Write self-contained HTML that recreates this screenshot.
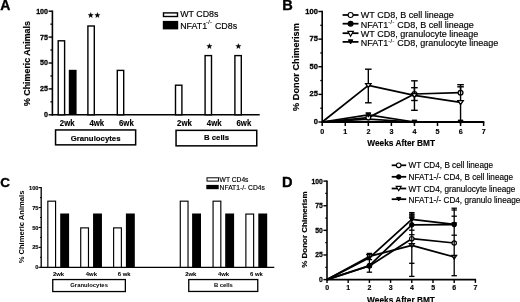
<!DOCTYPE html>
<html><head><meta charset="utf-8"><style>
html,body{margin:0;padding:0;background:#fff;}
svg{display:block;font-family:"Liberation Sans",sans-serif;filter:grayscale(1);}
text{stroke:#000;stroke-width:0.15px;}
</style></head><body>
<svg width="520" height="302" viewBox="0 0 520 302">
<rect width="520" height="302" fill="#fff"/>
<text x="0.30" y="10.10" font-size="14.0" font-weight="bold" text-anchor="start" style="stroke-width:0.35px">A</text>
<line x1="52.40" y1="10.50" x2="52.40" y2="115.55" stroke="#000" stroke-width="1.6"/>
<line x1="51.60" y1="114.80" x2="259.70" y2="114.80" stroke="#000" stroke-width="1.5"/>
<line x1="48.60" y1="114.80" x2="52.40" y2="114.80" stroke="#000" stroke-width="1.4"/>
<text transform="translate(48.00,117.23) scale(0.9,1.0)" font-size="7.9" font-weight="bold" text-anchor="end" style="stroke-width:0.3px">0</text>
<line x1="48.60" y1="88.90" x2="52.40" y2="88.90" stroke="#000" stroke-width="1.4"/>
<text transform="translate(48.00,91.33) scale(0.9,1.0)" font-size="7.9" font-weight="bold" text-anchor="end" style="stroke-width:0.3px">25</text>
<line x1="48.60" y1="63.00" x2="52.40" y2="63.00" stroke="#000" stroke-width="1.4"/>
<text transform="translate(48.00,65.43) scale(0.9,1.0)" font-size="7.9" font-weight="bold" text-anchor="end" style="stroke-width:0.3px">50</text>
<line x1="48.60" y1="37.10" x2="52.40" y2="37.10" stroke="#000" stroke-width="1.4"/>
<text transform="translate(48.00,39.53) scale(0.9,1.0)" font-size="7.9" font-weight="bold" text-anchor="end" style="stroke-width:0.3px">75</text>
<line x1="48.60" y1="11.20" x2="52.40" y2="11.20" stroke="#000" stroke-width="1.4"/>
<text transform="translate(48.00,13.63) scale(0.9,1.0)" font-size="7.9" font-weight="bold" text-anchor="end" style="stroke-width:0.3px">100</text>
<line x1="50.40" y1="101.85" x2="52.40" y2="101.85" stroke="#000" stroke-width="1.3"/>
<line x1="50.40" y1="75.95" x2="52.40" y2="75.95" stroke="#000" stroke-width="1.3"/>
<line x1="50.40" y1="50.05" x2="52.40" y2="50.05" stroke="#000" stroke-width="1.3"/>
<line x1="50.40" y1="24.15" x2="52.40" y2="24.15" stroke="#000" stroke-width="1.3"/>
<rect x="58.20" y="40.80" width="6.40" height="74.00" fill="#fff" stroke="#000" stroke-width="1.4"/>
<rect x="87.90" y="26.00" width="6.40" height="88.80" fill="#fff" stroke="#000" stroke-width="1.4"/>
<rect x="117.30" y="70.40" width="6.40" height="44.40" fill="#fff" stroke="#000" stroke-width="1.4"/>
<rect x="175.50" y="85.20" width="6.40" height="29.60" fill="#fff" stroke="#000" stroke-width="1.4"/>
<rect x="205.10" y="55.60" width="6.40" height="59.20" fill="#fff" stroke="#000" stroke-width="1.4"/>
<rect x="234.90" y="55.60" width="6.40" height="59.20" fill="#fff" stroke="#000" stroke-width="1.4"/>
<rect x="68.80" y="69.80" width="7.80" height="45.00" fill="#000"/>
<polygon points="90.70,12.40 91.42,14.31 93.46,14.40 91.86,15.68 92.40,17.65 90.70,16.52 89.00,17.65 89.54,15.68 87.94,14.40 89.98,14.31" fill="#000" stroke="#000" stroke-width="0.2" stroke-linejoin="round"/>
<polygon points="97.40,12.40 98.12,14.31 100.16,14.40 98.56,15.68 99.10,17.65 97.40,16.52 95.70,17.65 96.24,15.68 94.64,14.40 96.68,14.31" fill="#000" stroke="#000" stroke-width="0.2" stroke-linejoin="round"/>
<polygon points="209.40,43.40 210.12,45.31 212.16,45.40 210.56,46.68 211.10,48.65 209.40,47.52 207.70,48.65 208.24,46.68 206.64,45.40 208.68,45.31" fill="#000" stroke="#000" stroke-width="0.2" stroke-linejoin="round"/>
<polygon points="238.40,43.40 239.12,45.31 241.16,45.40 239.56,46.68 240.10,48.65 238.40,47.52 236.70,48.65 237.24,46.68 235.64,45.40 237.68,45.31" fill="#000" stroke="#000" stroke-width="0.2" stroke-linejoin="round"/>
<text transform="translate(67.20,125.80) scale(0.92,1.0)" font-size="8.5" font-weight="bold" text-anchor="middle">2wk</text>
<text transform="translate(96.80,125.80) scale(0.92,1.0)" font-size="8.5" font-weight="bold" text-anchor="middle">4wk</text>
<text transform="translate(126.40,125.80) scale(0.92,1.0)" font-size="8.5" font-weight="bold" text-anchor="middle">6wk</text>
<text transform="translate(184.50,125.80) scale(0.92,1.0)" font-size="8.5" font-weight="bold" text-anchor="middle">2wk</text>
<text transform="translate(214.20,125.80) scale(0.92,1.0)" font-size="8.5" font-weight="bold" text-anchor="middle">4wk</text>
<text transform="translate(243.90,125.80) scale(0.92,1.0)" font-size="8.5" font-weight="bold" text-anchor="middle">6wk</text>
<rect x="55.55" y="129.95" width="80.10" height="14.90" fill="#fff" stroke="#000" stroke-width="1.5"/>
<rect x="176.05" y="130.35" width="80.70" height="15.50" fill="#fff" stroke="#000" stroke-width="1.5"/>
<text x="95.60" y="140.90" font-size="7.8" font-weight="bold" text-anchor="middle">Granulocytes</text>
<text x="216.50" y="140.10" font-size="7.8" font-weight="bold" text-anchor="middle">B cells</text>
<text transform="translate(29.60,63.60) rotate(-90)" font-size="8.9" font-weight="bold" text-anchor="middle">% Chimeric Animals</text>
<rect x="163.50" y="12.90" width="14.00" height="3.60" fill="#fff" stroke="#000" stroke-width="1.4"/>
<rect x="162.80" y="20.90" width="15.40" height="8.50" fill="#000"/>
<text x="180.20" y="17.30" font-size="8.9" font-weight="normal" text-anchor="start">WT CD8s</text>
<text x="180.20" y="29.10" font-size="8.9" font-weight="normal" text-anchor="start">NFAT1</text>
<text x="206.00" y="24.30" font-size="5.4" font-weight="normal" text-anchor="start" letter-spacing="0.4">-/-</text>
<text x="214.90" y="29.10" font-size="8.9" font-weight="normal" text-anchor="start">CD8s</text>
<text x="282.20" y="10.40" font-size="14.6" font-weight="bold" text-anchor="start" style="stroke-width:0.35px">B</text>
<line x1="322.20" y1="10.80" x2="322.20" y2="122.70" stroke="#000" stroke-width="1.6"/>
<line x1="321.50" y1="122.00" x2="484.32" y2="122.00" stroke="#000" stroke-width="1.8"/>
<line x1="318.40" y1="122.00" x2="322.20" y2="122.00" stroke="#000" stroke-width="1.4"/>
<text transform="translate(317.90,124.00) scale(0.93,1.0)" font-size="8.1" font-weight="bold" text-anchor="end" style="stroke-width:0.3px">0</text>
<line x1="318.40" y1="94.38" x2="322.20" y2="94.38" stroke="#000" stroke-width="1.4"/>
<text transform="translate(317.90,96.37) scale(0.93,1.0)" font-size="8.1" font-weight="bold" text-anchor="end" style="stroke-width:0.3px">25</text>
<line x1="318.40" y1="66.75" x2="322.20" y2="66.75" stroke="#000" stroke-width="1.4"/>
<text transform="translate(317.90,68.75) scale(0.93,1.0)" font-size="8.1" font-weight="bold" text-anchor="end" style="stroke-width:0.3px">50</text>
<line x1="318.40" y1="39.12" x2="322.20" y2="39.12" stroke="#000" stroke-width="1.4"/>
<text transform="translate(317.90,41.12) scale(0.93,1.0)" font-size="8.1" font-weight="bold" text-anchor="end" style="stroke-width:0.3px">75</text>
<line x1="318.40" y1="11.50" x2="322.20" y2="11.50" stroke="#000" stroke-width="1.4"/>
<text transform="translate(317.90,13.50) scale(0.93,1.0)" font-size="8.1" font-weight="bold" text-anchor="end" style="stroke-width:0.3px">100</text>
<line x1="320.30" y1="108.19" x2="322.20" y2="108.19" stroke="#000" stroke-width="1.3"/>
<line x1="320.30" y1="80.56" x2="322.20" y2="80.56" stroke="#000" stroke-width="1.3"/>
<line x1="320.30" y1="52.94" x2="322.20" y2="52.94" stroke="#000" stroke-width="1.3"/>
<line x1="320.30" y1="25.31" x2="322.20" y2="25.31" stroke="#000" stroke-width="1.3"/>
<line x1="322.20" y1="122.00" x2="322.20" y2="126.00" stroke="#000" stroke-width="1.5"/>
<text transform="translate(322.30,133.70) scale(1.0,1.0)" font-size="7.2" font-weight="bold" text-anchor="middle">0</text>
<line x1="345.26" y1="122.00" x2="345.26" y2="126.00" stroke="#000" stroke-width="1.5"/>
<text transform="translate(345.36,133.70) scale(1.0,1.0)" font-size="7.2" font-weight="bold" text-anchor="middle">1</text>
<line x1="368.32" y1="122.00" x2="368.32" y2="126.00" stroke="#000" stroke-width="1.5"/>
<text transform="translate(368.42,133.70) scale(1.0,1.0)" font-size="7.2" font-weight="bold" text-anchor="middle">2</text>
<line x1="391.38" y1="122.00" x2="391.38" y2="126.00" stroke="#000" stroke-width="1.5"/>
<text transform="translate(391.48,133.70) scale(1.0,1.0)" font-size="7.2" font-weight="bold" text-anchor="middle">3</text>
<line x1="414.44" y1="122.00" x2="414.44" y2="126.00" stroke="#000" stroke-width="1.5"/>
<text transform="translate(414.54,133.70) scale(1.0,1.0)" font-size="7.2" font-weight="bold" text-anchor="middle">4</text>
<line x1="437.50" y1="122.00" x2="437.50" y2="126.00" stroke="#000" stroke-width="1.5"/>
<text transform="translate(437.60,133.70) scale(1.0,1.0)" font-size="7.2" font-weight="bold" text-anchor="middle">5</text>
<line x1="460.56" y1="122.00" x2="460.56" y2="126.00" stroke="#000" stroke-width="1.5"/>
<text transform="translate(460.66,133.70) scale(1.0,1.0)" font-size="7.2" font-weight="bold" text-anchor="middle">6</text>
<line x1="483.62" y1="122.00" x2="483.62" y2="126.00" stroke="#000" stroke-width="1.5"/>
<text transform="translate(483.72,133.70) scale(1.0,1.0)" font-size="7.2" font-weight="bold" text-anchor="middle">7</text>
<text x="401.20" y="146.00" font-size="8.3" font-weight="bold" text-anchor="middle">Weeks After BMT</text>
<text transform="translate(298.70,67.00) rotate(-90)" font-size="9.2" font-weight="bold" text-anchor="middle">% Donor Chimerism</text>
<polyline points="322.20,122.00 368.32,119.20 414.44,122.00" fill="none" stroke="#000" stroke-width="1.75" stroke-linejoin="round"/>
<polyline points="322.20,122.00 368.32,117.60 414.44,94.00 460.56,92.70" fill="none" stroke="#000" stroke-width="1.75" stroke-linejoin="round"/>
<polyline points="322.20,122.00 368.32,85.40 414.44,95.30 460.56,102.40" fill="none" stroke="#000" stroke-width="1.75" stroke-linejoin="round"/>
<polyline points="322.20,122.00 368.32,114.80 414.44,122.00 460.56,122.00" fill="none" stroke="#000" stroke-width="1.75" stroke-linejoin="round"/>
<line x1="414.44" y1="87.70" x2="414.44" y2="100.50" stroke="#000" stroke-width="1.4"/>
<line x1="411.14" y1="87.70" x2="417.74" y2="87.70" stroke="#000" stroke-width="1.4"/>
<line x1="411.14" y1="100.50" x2="417.74" y2="100.50" stroke="#000" stroke-width="1.4"/>
<line x1="460.56" y1="86.80" x2="460.56" y2="92.70" stroke="#000" stroke-width="1.4"/>
<line x1="457.26" y1="86.80" x2="463.86" y2="86.80" stroke="#000" stroke-width="1.4"/>
<circle cx="368.32" cy="117.60" r="2.40" fill="#fff" stroke="#000" stroke-width="1.3"/>
<circle cx="414.44" cy="94.00" r="2.40" fill="#fff" stroke="#000" stroke-width="1.3"/>
<circle cx="460.56" cy="92.70" r="2.40" fill="#fff" stroke="#000" stroke-width="1.3"/>
<line x1="368.32" y1="69.20" x2="368.32" y2="102.80" stroke="#000" stroke-width="1.4"/>
<line x1="365.02" y1="69.20" x2="371.62" y2="69.20" stroke="#000" stroke-width="1.4"/>
<line x1="365.02" y1="102.80" x2="371.62" y2="102.80" stroke="#000" stroke-width="1.4"/>
<line x1="414.44" y1="80.80" x2="414.44" y2="110.30" stroke="#000" stroke-width="1.4"/>
<line x1="411.14" y1="80.80" x2="417.74" y2="80.80" stroke="#000" stroke-width="1.4"/>
<line x1="411.14" y1="110.30" x2="417.74" y2="110.30" stroke="#000" stroke-width="1.4"/>
<line x1="460.56" y1="84.70" x2="460.56" y2="121.00" stroke="#000" stroke-width="1.4"/>
<line x1="457.26" y1="84.70" x2="463.86" y2="84.70" stroke="#000" stroke-width="1.4"/>
<polygon points="365.62,83.65 371.02,83.65 368.32,87.55" fill="#fff" stroke="#000" stroke-width="1.3" stroke-linejoin="miter"/>
<polygon points="411.74,93.55 417.14,93.55 414.44,97.44" fill="#fff" stroke="#000" stroke-width="1.3" stroke-linejoin="miter"/>
<polygon points="457.86,100.65 463.26,100.65 460.56,104.55" fill="#fff" stroke="#000" stroke-width="1.3" stroke-linejoin="miter"/>
<polygon points="365.82,112.82 370.82,112.82 368.32,117.22" fill="#000" stroke="#000" stroke-width="1.0" stroke-linejoin="miter"/>
<polygon points="411.94,120.10 416.94,120.10 414.44,123.90" fill="#000" stroke="#000" stroke-width="1.0" stroke-linejoin="miter"/>
<polygon points="458.06,120.10 463.06,120.10 460.56,123.90" fill="#000" stroke="#000" stroke-width="1.0" stroke-linejoin="miter"/>
<line x1="342.60" y1="15.00" x2="358.50" y2="15.00" stroke="#000" stroke-width="1.75"/>
<line x1="342.60" y1="23.70" x2="358.50" y2="23.70" stroke="#000" stroke-width="1.75"/>
<line x1="342.60" y1="33.20" x2="358.50" y2="33.20" stroke="#000" stroke-width="1.75"/>
<line x1="342.60" y1="41.90" x2="358.50" y2="41.90" stroke="#000" stroke-width="1.75"/>
<circle cx="350.60" cy="15.00" r="2.50" fill="#fff" stroke="#000" stroke-width="1.1"/>
<circle cx="350.60" cy="23.70" r="2.40" fill="#000" stroke="#000" stroke-width="1.2"/>
<polygon points="347.90,31.44 353.30,31.44 350.60,36.24" fill="#fff" stroke="#000" stroke-width="1.2" stroke-linejoin="miter"/>
<polygon points="348.40,39.80 352.80,39.80 350.60,44.00" fill="#000" stroke="#000" stroke-width="1.0" stroke-linejoin="miter"/>
<text x="360.80" y="17.60" font-size="9.0" font-weight="normal" text-anchor="start">WT CD8, B cell lineage</text>
<text x="360.80" y="27.70" font-size="9.0" font-weight="normal" text-anchor="start">NFAT1<tspan dy="-3.6" font-size="5.4" letter-spacing="0.5">-/-</tspan><tspan dy="3.6"> CD8, B cell lineage</tspan></text>
<text x="360.80" y="36.50" font-size="9.0" font-weight="normal" text-anchor="start">WT CD8, granulocyte lineage</text>
<text x="360.80" y="46.40" font-size="9.0" font-weight="normal" text-anchor="start">NFAT1<tspan dy="-3.6" font-size="5.4" letter-spacing="0.5">-/-</tspan><tspan dy="3.6"> CD8, granulocyte lineage</tspan></text>
<text x="0.20" y="187.30" font-size="13.5" font-weight="bold" text-anchor="start" style="stroke-width:0.35px">C</text>
<line x1="41.20" y1="187.00" x2="41.20" y2="267.90" stroke="#000" stroke-width="1.3"/>
<line x1="40.60" y1="267.30" x2="274.30" y2="267.30" stroke="#000" stroke-width="1.3"/>
<line x1="38.60" y1="267.30" x2="41.20" y2="267.30" stroke="#000" stroke-width="1.1"/>
<text transform="translate(38.50,269.35) scale(0.95,1.0)" font-size="6.0" font-weight="bold" text-anchor="end" style="stroke-width:0.12px">0</text>
<line x1="38.60" y1="247.38" x2="41.20" y2="247.38" stroke="#000" stroke-width="1.1"/>
<text transform="translate(38.50,249.42) scale(0.95,1.0)" font-size="6.0" font-weight="bold" text-anchor="end" style="stroke-width:0.12px">25</text>
<line x1="38.60" y1="227.45" x2="41.20" y2="227.45" stroke="#000" stroke-width="1.1"/>
<text transform="translate(38.50,229.50) scale(0.95,1.0)" font-size="6.0" font-weight="bold" text-anchor="end" style="stroke-width:0.12px">50</text>
<line x1="38.60" y1="207.53" x2="41.20" y2="207.53" stroke="#000" stroke-width="1.1"/>
<text transform="translate(38.50,209.57) scale(0.95,1.0)" font-size="6.0" font-weight="bold" text-anchor="end" style="stroke-width:0.12px">75</text>
<line x1="38.60" y1="187.60" x2="41.20" y2="187.60" stroke="#000" stroke-width="1.1"/>
<text transform="translate(38.50,189.65) scale(0.95,1.0)" font-size="6.0" font-weight="bold" text-anchor="end" style="stroke-width:0.12px">100</text>
<line x1="40.00" y1="257.34" x2="41.20" y2="257.34" stroke="#000" stroke-width="1.0"/>
<line x1="40.00" y1="237.41" x2="41.20" y2="237.41" stroke="#000" stroke-width="1.0"/>
<line x1="40.00" y1="217.49" x2="41.20" y2="217.49" stroke="#000" stroke-width="1.0"/>
<line x1="40.00" y1="197.56" x2="41.20" y2="197.56" stroke="#000" stroke-width="1.0"/>
<rect x="47.83" y="201.17" width="7.75" height="66.13" fill="#fff" stroke="#000" stroke-width="1.15"/>
<rect x="60.20" y="213.50" width="8.90" height="53.80" fill="#000"/>
<rect x="80.72" y="227.88" width="7.75" height="39.42" fill="#fff" stroke="#000" stroke-width="1.15"/>
<rect x="93.05" y="213.50" width="8.90" height="53.80" fill="#000"/>
<rect x="113.62" y="227.88" width="7.75" height="39.42" fill="#fff" stroke="#000" stroke-width="1.15"/>
<rect x="125.90" y="213.50" width="8.90" height="53.80" fill="#000"/>
<rect x="180.28" y="201.17" width="7.75" height="66.13" fill="#fff" stroke="#000" stroke-width="1.15"/>
<rect x="192.10" y="213.50" width="8.90" height="53.80" fill="#000"/>
<rect x="213.07" y="201.17" width="7.75" height="66.13" fill="#fff" stroke="#000" stroke-width="1.15"/>
<rect x="225.20" y="213.50" width="8.90" height="53.80" fill="#000"/>
<rect x="245.88" y="214.07" width="7.75" height="53.23" fill="#fff" stroke="#000" stroke-width="1.15"/>
<rect x="258.30" y="213.50" width="8.90" height="53.80" fill="#000"/>
<text x="58.60" y="275.50" font-size="5.9" font-weight="bold" text-anchor="middle" style="stroke-width:0.05px">2wk</text>
<text x="190.80" y="275.50" font-size="5.9" font-weight="bold" text-anchor="middle" style="stroke-width:0.05px">2wk</text>
<text x="91.40" y="275.50" font-size="5.9" font-weight="bold" text-anchor="middle" style="stroke-width:0.05px">4wk</text>
<text x="223.60" y="275.50" font-size="5.9" font-weight="bold" text-anchor="middle" style="stroke-width:0.05px">4wk</text>
<text x="124.20" y="275.50" font-size="5.9" font-weight="bold" text-anchor="middle" style="stroke-width:0.05px">6 wk</text>
<text x="256.40" y="275.50" font-size="5.9" font-weight="bold" text-anchor="middle" style="stroke-width:0.05px">6 wk</text>
<rect x="52.75" y="279.55" width="72.60" height="12.00" fill="#fff" stroke="#000" stroke-width="1.3"/>
<rect x="188.75" y="279.55" width="69.00" height="11.90" fill="#fff" stroke="#000" stroke-width="1.3"/>
<text x="89.10" y="287.30" font-size="5.9" font-weight="bold" text-anchor="middle" style="stroke-width:0">Granulocytes</text>
<text x="223.40" y="287.20" font-size="5.9" font-weight="bold" text-anchor="middle" style="stroke-width:0">B cells</text>
<text transform="translate(24.40,227.00) rotate(-90)" font-size="7.6" font-weight="bold" text-anchor="middle" style="stroke-width:0">% Chimeric Animals</text>
<rect x="207.00" y="177.80" width="11.60" height="3.30" fill="#fff" stroke="#000" stroke-width="1.0"/>
<rect x="206.30" y="184.90" width="12.40" height="4.30" fill="#000"/>
<text x="219.60" y="182.00" font-size="6.7" font-weight="normal" text-anchor="start">WT CD4s</text>
<text x="219.60" y="189.90" font-size="6.7" font-weight="normal" text-anchor="start">NFAT1-/- CD4s</text>
<text x="282.10" y="187.30" font-size="14.6" font-weight="bold" text-anchor="start" style="stroke-width:0.35px">D</text>
<line x1="327.00" y1="180.40" x2="327.00" y2="280.30" stroke="#000" stroke-width="1.6"/>
<line x1="326.30" y1="279.60" x2="476.10" y2="279.60" stroke="#000" stroke-width="1.6"/>
<line x1="323.40" y1="279.60" x2="327.00" y2="279.60" stroke="#000" stroke-width="1.4"/>
<text transform="translate(322.80,282.03) scale(0.86,1.0)" font-size="7.9" font-weight="bold" text-anchor="end" style="stroke-width:0.3px">0</text>
<line x1="323.40" y1="254.98" x2="327.00" y2="254.98" stroke="#000" stroke-width="1.4"/>
<text transform="translate(322.80,257.40) scale(0.86,1.0)" font-size="7.9" font-weight="bold" text-anchor="end" style="stroke-width:0.3px">25</text>
<line x1="323.40" y1="230.35" x2="327.00" y2="230.35" stroke="#000" stroke-width="1.4"/>
<text transform="translate(322.80,232.78) scale(0.86,1.0)" font-size="7.9" font-weight="bold" text-anchor="end" style="stroke-width:0.3px">50</text>
<line x1="323.40" y1="205.73" x2="327.00" y2="205.73" stroke="#000" stroke-width="1.4"/>
<text transform="translate(322.80,208.15) scale(0.86,1.0)" font-size="7.9" font-weight="bold" text-anchor="end" style="stroke-width:0.3px">75</text>
<line x1="323.40" y1="181.10" x2="327.00" y2="181.10" stroke="#000" stroke-width="1.4"/>
<text transform="translate(322.80,183.53) scale(0.86,1.0)" font-size="7.9" font-weight="bold" text-anchor="end" style="stroke-width:0.3px">100</text>
<line x1="325.30" y1="267.29" x2="327.00" y2="267.29" stroke="#000" stroke-width="1.3"/>
<line x1="325.30" y1="242.66" x2="327.00" y2="242.66" stroke="#000" stroke-width="1.3"/>
<line x1="325.30" y1="218.04" x2="327.00" y2="218.04" stroke="#000" stroke-width="1.3"/>
<line x1="325.30" y1="193.41" x2="327.00" y2="193.41" stroke="#000" stroke-width="1.3"/>
<line x1="327.00" y1="279.60" x2="327.00" y2="282.90" stroke="#000" stroke-width="1.4"/>
<text transform="translate(327.10,290.40) scale(1.0,1.0)" font-size="7.0" font-weight="bold" text-anchor="middle">0</text>
<line x1="348.20" y1="279.60" x2="348.20" y2="282.90" stroke="#000" stroke-width="1.4"/>
<text transform="translate(348.30,290.40) scale(1.0,1.0)" font-size="7.0" font-weight="bold" text-anchor="middle">1</text>
<line x1="369.40" y1="279.60" x2="369.40" y2="282.90" stroke="#000" stroke-width="1.4"/>
<text transform="translate(369.50,290.40) scale(1.0,1.0)" font-size="7.0" font-weight="bold" text-anchor="middle">2</text>
<line x1="390.60" y1="279.60" x2="390.60" y2="282.90" stroke="#000" stroke-width="1.4"/>
<text transform="translate(390.70,290.40) scale(1.0,1.0)" font-size="7.0" font-weight="bold" text-anchor="middle">3</text>
<line x1="411.80" y1="279.60" x2="411.80" y2="282.90" stroke="#000" stroke-width="1.4"/>
<text transform="translate(411.90,290.40) scale(1.0,1.0)" font-size="7.0" font-weight="bold" text-anchor="middle">4</text>
<line x1="433.00" y1="279.60" x2="433.00" y2="282.90" stroke="#000" stroke-width="1.4"/>
<text transform="translate(433.10,290.40) scale(1.0,1.0)" font-size="7.0" font-weight="bold" text-anchor="middle">5</text>
<line x1="454.20" y1="279.60" x2="454.20" y2="282.90" stroke="#000" stroke-width="1.4"/>
<text transform="translate(454.30,290.40) scale(1.0,1.0)" font-size="7.0" font-weight="bold" text-anchor="middle">6</text>
<line x1="475.40" y1="279.60" x2="475.40" y2="282.90" stroke="#000" stroke-width="1.4"/>
<text transform="translate(475.50,290.40) scale(1.0,1.0)" font-size="7.0" font-weight="bold" text-anchor="middle">7</text>
<text x="401.00" y="302.60" font-size="8.3" font-weight="bold" text-anchor="middle">Weeks After BMT</text>
<text transform="translate(306.60,229.60) rotate(-90)" font-size="8.0" font-weight="bold" text-anchor="middle">% Donor Chimerism</text>
<polyline points="327.00,279.60 369.40,266.00 411.80,238.70 454.20,243.00" fill="none" stroke="#000" stroke-width="1.75" stroke-linejoin="round"/>
<polyline points="327.00,279.60 369.40,265.60 411.80,224.80 454.20,224.60" fill="none" stroke="#000" stroke-width="1.75" stroke-linejoin="round"/>
<polyline points="327.00,279.60 369.40,256.40 411.80,245.30 454.20,257.00" fill="none" stroke="#000" stroke-width="1.75" stroke-linejoin="round"/>
<polyline points="327.00,279.60 369.40,257.80 411.80,219.40 454.20,224.40" fill="none" stroke="#000" stroke-width="1.75" stroke-linejoin="round"/>
<circle cx="369.40" cy="266.00" r="2.20" fill="#fff" stroke="#000" stroke-width="1.2"/>
<circle cx="411.80" cy="238.70" r="2.20" fill="#fff" stroke="#000" stroke-width="1.2"/>
<circle cx="454.20" cy="243.00" r="2.20" fill="#fff" stroke="#000" stroke-width="1.2"/>
<circle cx="369.40" cy="265.60" r="2.30" fill="#000" stroke="#000" stroke-width="1.0"/>
<circle cx="411.80" cy="224.80" r="2.30" fill="#000" stroke="#000" stroke-width="1.0"/>
<circle cx="454.20" cy="224.60" r="2.30" fill="#000" stroke="#000" stroke-width="1.0"/>
<polygon points="367.00,256.09 371.80,256.09 369.40,259.89" fill="#000" stroke="#000" stroke-width="1.0" stroke-linejoin="miter"/>
<polygon points="409.40,217.69 414.20,217.69 411.80,221.49" fill="#000" stroke="#000" stroke-width="1.0" stroke-linejoin="miter"/>
<polygon points="451.80,222.69 456.60,222.69 454.20,226.49" fill="#000" stroke="#000" stroke-width="1.0" stroke-linejoin="miter"/>
<polygon points="366.90,254.69 371.90,254.69 369.40,258.49" fill="#fff" stroke="#000" stroke-width="1.2" stroke-linejoin="miter"/>
<polygon points="409.30,243.59 414.30,243.59 411.80,247.39" fill="#fff" stroke="#000" stroke-width="1.2" stroke-linejoin="miter"/>
<polygon points="451.70,255.29 456.70,255.29 454.20,259.09" fill="#fff" stroke="#000" stroke-width="1.2" stroke-linejoin="miter"/>
<line x1="369.40" y1="253.40" x2="369.40" y2="272.20" stroke="#000" stroke-width="1.3"/>
<line x1="366.70" y1="253.40" x2="372.10" y2="253.40" stroke="#000" stroke-width="1.3"/>
<line x1="366.70" y1="259.60" x2="372.10" y2="259.60" stroke="#000" stroke-width="1.3"/>
<line x1="366.70" y1="272.20" x2="372.10" y2="272.20" stroke="#000" stroke-width="1.3"/>
<rect x="409.30" y="212.60" width="5.20" height="4.60" fill="#444"/>
<line x1="411.80" y1="212.60" x2="411.80" y2="276.40" stroke="#000" stroke-width="1.3"/>
<line x1="409.10" y1="212.60" x2="414.50" y2="212.60" stroke="#000" stroke-width="1.3"/>
<line x1="409.10" y1="214.90" x2="414.50" y2="214.90" stroke="#000" stroke-width="1.3"/>
<line x1="409.10" y1="217.10" x2="414.50" y2="217.10" stroke="#000" stroke-width="1.3"/>
<line x1="409.10" y1="230.20" x2="414.50" y2="230.20" stroke="#000" stroke-width="1.3"/>
<line x1="409.10" y1="234.70" x2="414.50" y2="234.70" stroke="#000" stroke-width="1.3"/>
<line x1="409.10" y1="263.30" x2="414.50" y2="263.30" stroke="#000" stroke-width="1.3"/>
<line x1="409.10" y1="276.40" x2="414.50" y2="276.40" stroke="#000" stroke-width="1.3"/>
<line x1="454.20" y1="208.20" x2="454.20" y2="275.70" stroke="#000" stroke-width="1.3"/>
<line x1="451.50" y1="208.20" x2="456.90" y2="208.20" stroke="#000" stroke-width="1.3"/>
<line x1="451.50" y1="210.00" x2="456.90" y2="210.00" stroke="#000" stroke-width="1.3"/>
<line x1="451.50" y1="216.20" x2="456.90" y2="216.20" stroke="#000" stroke-width="1.3"/>
<line x1="451.50" y1="235.20" x2="456.90" y2="235.20" stroke="#000" stroke-width="1.3"/>
<line x1="451.50" y1="275.70" x2="456.90" y2="275.70" stroke="#000" stroke-width="1.3"/>
<line x1="391.70" y1="165.30" x2="406.20" y2="165.30" stroke="#000" stroke-width="1.75"/>
<line x1="391.70" y1="176.80" x2="406.20" y2="176.80" stroke="#000" stroke-width="1.75"/>
<line x1="391.70" y1="188.50" x2="406.20" y2="188.50" stroke="#000" stroke-width="1.75"/>
<line x1="391.70" y1="199.20" x2="406.20" y2="199.20" stroke="#000" stroke-width="1.75"/>
<circle cx="398.70" cy="165.30" r="2.30" fill="#fff" stroke="#000" stroke-width="1.1"/>
<circle cx="398.70" cy="176.80" r="2.00" fill="#000" stroke="#000" stroke-width="1.2"/>
<polygon points="396.20,186.39 401.20,186.39 398.70,190.69" fill="#fff" stroke="#000" stroke-width="1.1" stroke-linejoin="miter"/>
<polygon points="396.60,197.40 400.80,197.40 398.70,201.00" fill="#000" stroke="#000" stroke-width="1.0" stroke-linejoin="miter"/>
<text x="408.60" y="168.30" font-size="8.2" font-weight="normal" text-anchor="start">WT CD4, B cell lineage</text>
<text x="408.60" y="180.10" font-size="8.2" font-weight="normal" text-anchor="start">NFAT1-/- CD4, B cell lineage</text>
<text x="408.60" y="191.70" font-size="8.2" font-weight="normal" text-anchor="start">WT CD4, granulocyte lineage</text>
<text x="408.60" y="202.50" font-size="8.2" font-weight="normal" text-anchor="start">NFAT1-/- CD4, granulo lineage</text>
</svg></body></html>
